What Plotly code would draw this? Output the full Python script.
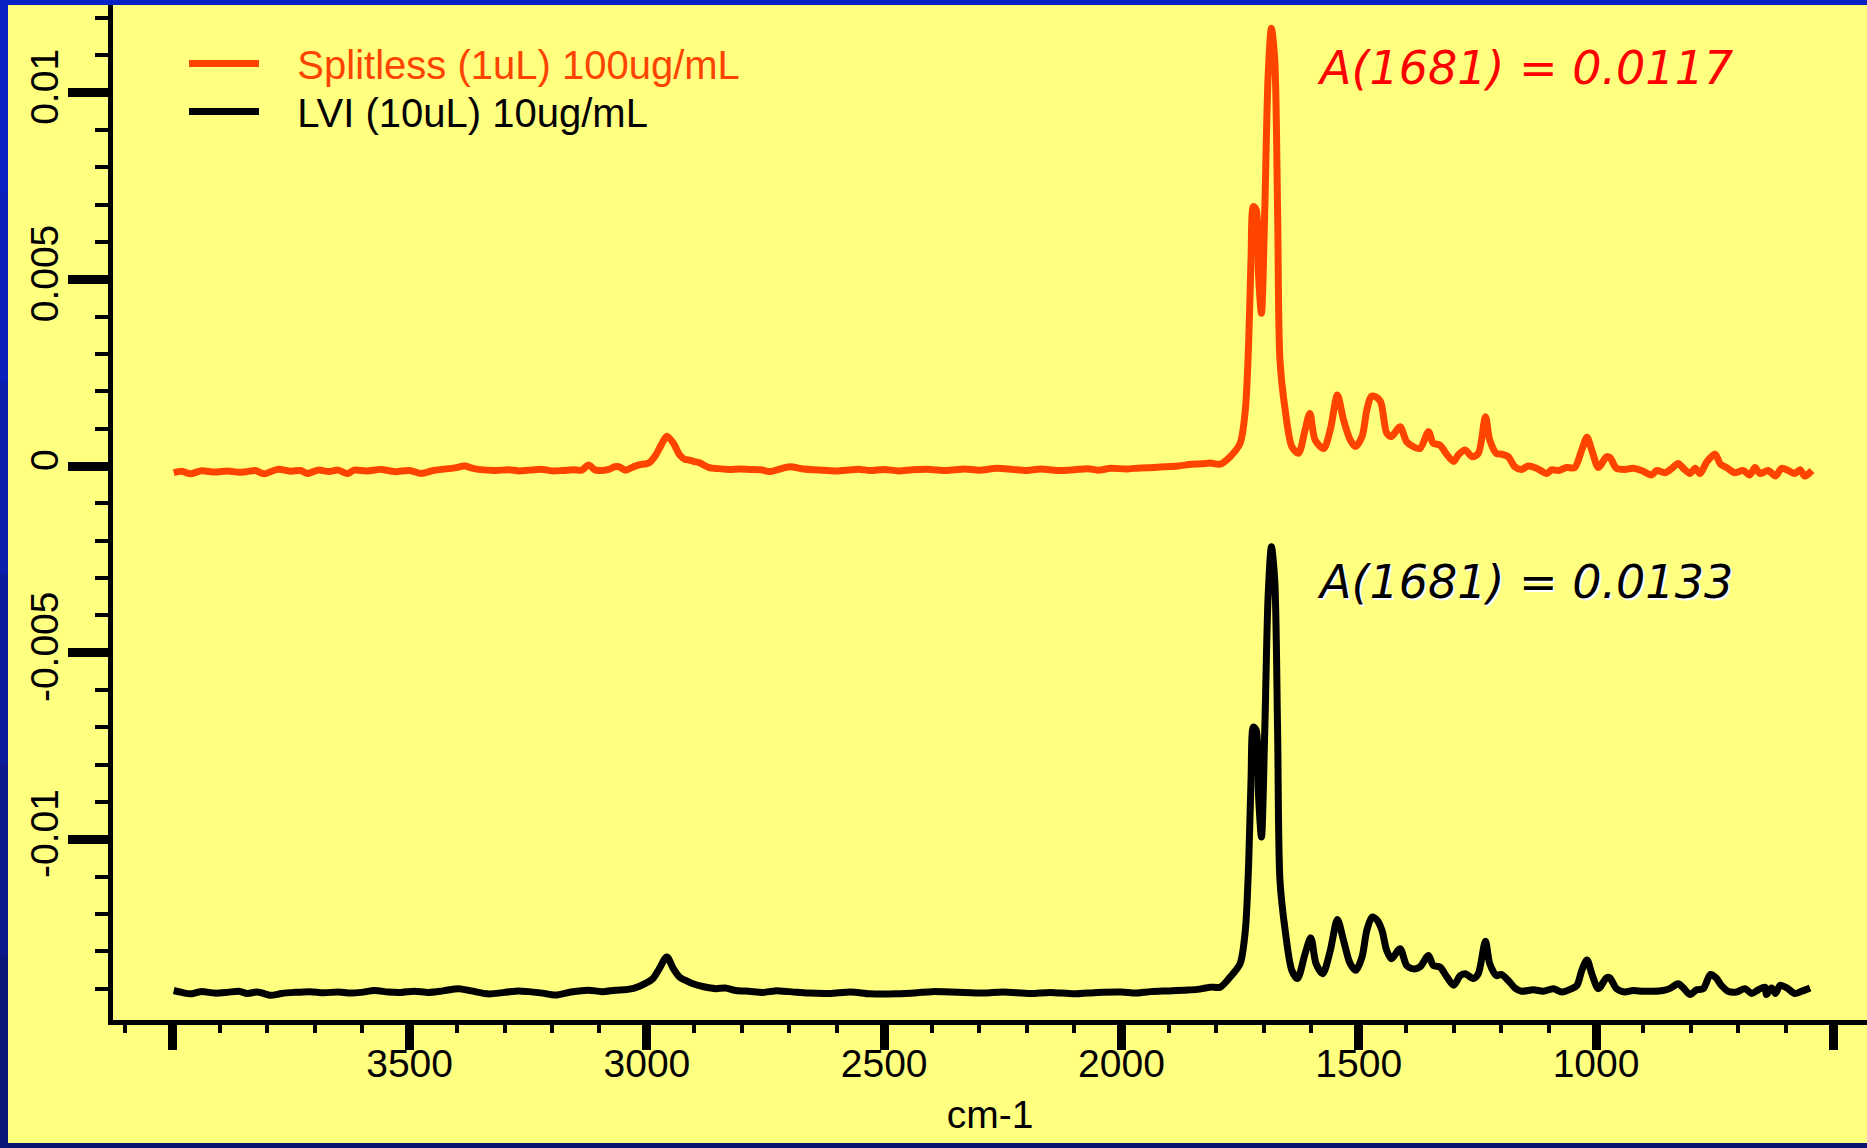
import plotly.graph_objects as go

# ---------------- data ----------------
splitless_wn = [
    3997, 3980, 3962, 3940, 3910, 3884, 3860, 3842, 3825, 3807, 3778, 3750, 3730, 3715, 3693, 3670,
    3651, 3631, 3617, 3590, 3560, 3532, 3500, 3475, 3450, 3432, 3405, 3384, 3370, 3355, 3320, 3290,
    3270, 3249, 3220, 3200, 3178, 3155, 3137, 3123, 3110, 3101, 3080, 3068, 3059, 3045, 3030, 3017,
    2995, 2981, 2970, 2958, 2944, 2931, 2920, 2911, 2900, 2890, 2869, 2850, 2827, 2805, 2784, 2760,
    2741, 2720, 2699, 2670, 2650, 2629, 2600, 2570, 2550, 2530, 2500, 2470, 2440, 2403, 2370, 2330,
    2300, 2262, 2230, 2200, 2170, 2135, 2100, 2070, 2050, 2022, 1990, 1960, 1930, 1909, 1880, 1853,
    1830, 1813, 1792, 1771, 1750, 1739, 1732, 1727, 1722, 1716, 1711, 1705, 1698, 1691, 1684, 1677,
    1671, 1666, 1655, 1641, 1627, 1613, 1603, 1592, 1574, 1560, 1545, 1532, 1518, 1507, 1493, 1483,
    1474, 1466, 1454, 1441, 1431, 1413, 1399, 1385, 1371, 1353, 1343, 1329, 1314, 1300, 1290, 1276,
    1261, 1248, 1233, 1224, 1210, 1200, 1185, 1171, 1157, 1143, 1125, 1104, 1093, 1079, 1062, 1045,
    1030, 1019, 1009, 995, 978, 971, 957, 939, 922, 904, 883, 872, 855, 840, 827, 816,
    802, 791, 781, 766, 749, 738, 725, 707, 690, 676, 665, 655, 637, 622, 609, 595,
    581, 570, 560, 545,
]
splitless_abs = [
    -0.00018, -0.00014, -0.00021, -0.00013, -0.00016, -0.00013, -0.00017, -0.00015, -0.00012, -0.00021, -0.00009, -0.00014, -0.00012, -0.00020, -0.00011, -0.00015,
    -0.00011, -0.00020, -0.00011, -0.00013, -0.00009, -0.00015, -0.00012, -0.00020, -0.00012, -0.00009, -0.00005, 0.00000, -0.00005, -0.00009, -0.00012, -0.00010,
    -0.00013, -0.00011, -0.00009, -0.00013, -0.00012, -0.00010, -0.00011, 0.00003, -0.00010, -0.00012, -0.00009, -0.00002, -0.00002, -0.00011, -0.00003, 0.00003,
    0.00009, 0.00030, 0.00056, 0.00080, 0.00061, 0.00030, 0.00018, 0.00016, 0.00012, 0.00009, -0.00004, -0.00007, -0.00009, -0.00008, -0.00009, -0.00010,
    -0.00015, -0.00008, -0.00002, -0.00008, -0.00010, -0.00011, -0.00013, -0.00010, -0.00009, -0.00012, -0.00009, -0.00013, -0.00010, -0.00009, -0.00012, -0.00008,
    -0.00011, -0.00006, -0.00009, -0.00012, -0.00008, -0.00012, -0.00010, -0.00007, -0.00011, -0.00006, -0.00008, -0.00005, -0.00004, -0.00002, 0.00000, 0.00005,
    0.00006, 0.00008, 0.00005, 0.00025, 0.00061, 0.00150, 0.00329, 0.00552, 0.00695, 0.00686, 0.00508, 0.00409, 0.00686, 0.01044, 0.01173, 0.01088,
    0.00686, 0.00284, 0.00150, 0.00052, 0.00034, 0.00097, 0.00141, 0.00070, 0.00047, 0.00097, 0.00190, 0.00123, 0.00070, 0.00052, 0.00079, 0.00150,
    0.00186, 0.00186, 0.00172, 0.00088, 0.00079, 0.00105, 0.00065, 0.00052, 0.00047, 0.00092, 0.00061, 0.00056, 0.00030, 0.00012, 0.00030, 0.00043,
    0.00025, 0.00034, 0.00132, 0.00070, 0.00034, 0.00032, 0.00025, -0.00002, -0.00009, 0.00000, -0.00006, -0.00020, -0.00010, -0.00012, -0.00004, -0.00004,
    0.00043, 0.00077, 0.00043, -0.00004, 0.00025, 0.00023, -0.00006, -0.00009, -0.00006, -0.00012, -0.00024, -0.00012, -0.00018, -0.00006, 0.00007, -0.00006,
    -0.00020, -0.00006, -0.00020, 0.00012, 0.00032, 0.00005, -0.00004, -0.00018, -0.00012, -0.00024, -0.00004, -0.00020, -0.00012, -0.00027, -0.00006, -0.00012,
    -0.00020, -0.00010, -0.00027, -0.00012,
]

lvi_wn = [
    3997, 3980, 3962, 3940, 3910, 3884, 3860, 3842, 3820, 3793, 3770, 3743, 3710, 3680, 3650, 3625,
    3602, 3574, 3545, 3518, 3490, 3460, 3430, 3397, 3370, 3335, 3300, 3270, 3249, 3220, 3193, 3160,
    3123, 3095, 3066, 3040, 3017, 2988, 2974, 2958, 2944, 2931, 2915, 2903, 2880, 2855, 2835, 2812,
    2785, 2755, 2730, 2700, 2660, 2615, 2570, 2530, 2473, 2430, 2400, 2332, 2290, 2250, 2192, 2150,
    2100, 2050, 2000, 1970, 1938, 1900, 1867, 1840, 1813, 1792, 1771, 1750, 1739, 1732, 1727, 1722,
    1716, 1711, 1705, 1698, 1691, 1684, 1677, 1671, 1666, 1655, 1641, 1629, 1613, 1601, 1590, 1576,
    1560, 1545, 1532, 1518, 1506, 1493, 1483, 1472, 1461, 1451, 1441, 1431, 1413, 1399, 1385, 1371,
    1353, 1343, 1329, 1314, 1300, 1286, 1276, 1258, 1248, 1233, 1224, 1210, 1200, 1185, 1171, 1157,
    1132, 1111, 1090, 1072, 1051, 1040, 1030, 1019, 1009, 995, 978, 971, 957, 939, 922, 901,
    880, 859, 845, 827, 816, 802, 788, 774, 759, 747, 736, 722, 704, 686, 672, 658,
    644, 641, 630, 622, 612, 598, 581, 567, 549,
]
lvi_abs = [
    -0.01405, -0.01410, -0.01414, -0.01408, -0.01412, -0.01410, -0.01407, -0.01413, -0.01409, -0.01418, -0.01413, -0.01410, -0.01408, -0.01411, -0.01409, -0.01412,
    -0.01410, -0.01405, -0.01409, -0.01410, -0.01407, -0.01410, -0.01406, -0.01400, -0.01406, -0.01414, -0.01410, -0.01406, -0.01408, -0.01412, -0.01417, -0.01409,
    -0.01404, -0.01408, -0.01404, -0.01402, -0.01394, -0.01374, -0.01347, -0.01315, -0.01347, -0.01369, -0.01380, -0.01387, -0.01395, -0.01400, -0.01398, -0.01405,
    -0.01407, -0.01410, -0.01406, -0.01408, -0.01412, -0.01413, -0.01409, -0.01414, -0.01414, -0.01411, -0.01408, -0.01410, -0.01412, -0.01409, -0.01413, -0.01410,
    -0.01414, -0.01410, -0.01409, -0.01412, -0.01408, -0.01406, -0.01404, -0.01402, -0.01396, -0.01396, -0.01369, -0.01333, -0.01244, -0.01065, -0.00842, -0.00699,
    -0.00708, -0.00887, -0.00994, -0.00708, -0.00350, -0.00216, -0.00306, -0.00708, -0.01110, -0.01244, -0.01351, -0.01373, -0.01306, -0.01264, -0.01333, -0.01360,
    -0.01298, -0.01215, -0.01271, -0.01333, -0.01351, -0.01315, -0.01244, -0.01208, -0.01217, -0.01244, -0.01298, -0.01320, -0.01293, -0.01338, -0.01347, -0.01342,
    -0.01311, -0.01338, -0.01342, -0.01369, -0.01391, -0.01365, -0.01360, -0.01373, -0.01360, -0.01273, -0.01333, -0.01365, -0.01362, -0.01378, -0.01398, -0.01407,
    -0.01403, -0.01407, -0.01400, -0.01409, -0.01400, -0.01391, -0.01351, -0.01323, -0.01360, -0.01400, -0.01371, -0.01371, -0.01400, -0.01409, -0.01405, -0.01407,
    -0.01407, -0.01405, -0.01400, -0.01387, -0.01398, -0.01416, -0.01403, -0.01400, -0.01362, -0.01371, -0.01391, -0.01407, -0.01409, -0.01400, -0.01413, -0.01403,
    -0.01396, -0.01416, -0.01398, -0.01413, -0.01391, -0.01398, -0.01413, -0.01407, -0.01398,
]

x_tick_vals = [4000, 3500, 3000, 2500, 2000, 1500, 1000, 500]
x_tick_text = ["", "3500", "3000", "2500", "2000", "1500", "1000", ""]
y_tick_vals = [-0.01, -0.005, 0, 0.005, 0.01]
y_tick_text = ["-0.01", "-0.005", "0", "0.005", "0.01"]

series_names = ["Splitless (1uL) 100ug/mL", "LVI (10uL) 10ug/mL"]
annotation_texts = ["A(1681) = 0.0117", "A(1681) = 0.0133"]

# ---------------- figure ----------------
W, H = 1867, 1148
ML, MR, MT, MB = 113, 0, 5, 128
PW, PH = W - ML - MR, H - MT - MB

ORANGE = "#FF4400"
YELLOW = "#FFFF80"
FONT = "Liberation Sans, Arial, sans-serif"
GAP = "&nbsp;&nbsp;&nbsp;"
LEFT_FRAME = ["#0822C6", "#0920BA", "#0A1EAC", "#0A1C9C", "#0B198A", "#0B167A"]


def px_x(p):
    return (p - ML) / PW


def px_y(p):
    return (H - MB - p) / PH


fig = go.Figure()
fig.add_trace(go.Scatter(
    x=splitless_wn, y=splitless_abs, mode="lines",
    name=f'{GAP}<span style="color:{ORANGE}">{series_names[0]}</span>',
    legend="legend",
    line=dict(color=ORANGE, width=7, shape="spline", smoothing=0.8),
))
fig.add_trace(go.Scatter(
    x=lvi_wn, y=lvi_abs, mode="lines",
    name=f"{GAP}{series_names[1]}",
    legend="legend2",
    line=dict(color="black", width=7, shape="spline", smoothing=0.8),
))

fig.add_annotation(
    x=1592, y=0.01066, xref="x", yref="y", xanchor="left", yanchor="middle",
    text=annotation_texts[0], showarrow=False,
    font=dict(family="DejaVu Sans", size=46, color="#FF0000", style="italic"),
)
fig.add_annotation(
    x=1592, y=-0.00311, xref="x", yref="y", xanchor="left", yanchor="middle",
    text=annotation_texts[1], showarrow=False,
    font=dict(family="DejaVu Sans", size=46, color="black", style="italic",
              shadow="2px 2px 0px white"),
)

# blue slide frame: top strip, bottom strip, left strip (graded)
fig.add_shape(type="rect", xref="paper", yref="paper", layer="below",
              x0=px_x(-5), x1=px_x(W + 20), y0=px_y(5), y1=px_y(-5),
              fillcolor="#0822C6", line=dict(width=0))
fig.add_shape(type="rect", xref="paper", yref="paper", layer="below",
              x0=px_x(-5), x1=px_x(W + 20), y0=px_y(H + 5), y1=px_y(1143),
              fillcolor="#0A1670", line=dict(width=0))
seg = H / len(LEFT_FRAME)
for i, c in enumerate(LEFT_FRAME):
    fig.add_shape(type="rect", xref="paper", yref="paper", layer="below",
                  x0=px_x(-5), x1=px_x(8), y0=px_y(i * seg + seg + 1), y1=px_y(i * seg),
                  fillcolor=c, line=dict(width=0))

legend_style = dict(
    xanchor="left", yanchor="top",
    bgcolor="rgba(0,0,0,0)", borderwidth=0,
    font=dict(family=FONT, size=40, color="black"),
    itemwidth=70,
)

fig.update_layout(
    width=W, height=H,
    margin=dict(l=ML, r=MR, t=MT, b=MB, pad=0),
    paper_bgcolor=YELLOW,
    plot_bgcolor=YELLOW,
    font=dict(family=FONT, size=39, color="black"),
    showlegend=True,
    legend=dict(x=px_x(184), y=px_y(31), **legend_style),
    legend2=dict(x=px_x(184), y=px_y(79), **legend_style),
    xaxis=dict(
        range=[4125, 429], autorange=False,
        showline=True, linecolor="black", linewidth=5, mirror=False,
        showgrid=False, zeroline=False,
        tickmode="array", tickvals=x_tick_vals, ticktext=x_tick_text,
        ticks="outside", ticklen=25, tickwidth=9, tickcolor="black",
        ticklabelstandoff=-20,
        tickfont=dict(family=FONT, size=39, color="black"),
        minor=dict(tickmode="linear", tick0=0, dtick=100, ticks="outside",
                   ticklen=8, tickwidth=4, tickcolor="black"),
        title=dict(text="cm-1", font=dict(family=FONT, size=39, color="black"), standoff=18),
    ),
    yaxis=dict(
        range=[-0.01484, 0.01235], autorange=False,
        showline=True, linecolor="black", linewidth=5,
        showgrid=False, zeroline=False,
        tickmode="array", tickvals=y_tick_vals, ticktext=y_tick_text,
        ticks="outside", ticklen=40, tickwidth=9, tickcolor="black",
        tickangle=-90, ticklabelstandoff=-6,
        tickfont=dict(family=FONT, size=39, color="black"),
        minor=dict(tickmode="linear", tick0=0, dtick=0.001, ticks="outside",
                   ticklen=13, tickwidth=4, tickcolor="black"),
    ),
)

fig.write_html(
    "out.html",
    config={"displayModeBar": False},
    post_script=(
        "document.body.style.margin='0';"
        "document.body.style.backgroundColor='" + YELLOW + "';"
        "document.documentElement.style.backgroundColor='" + YELLOW + "';"
        "document.body.style.overflow='hidden';"
        "document.documentElement.style.overflow='hidden';"
    ),
)
